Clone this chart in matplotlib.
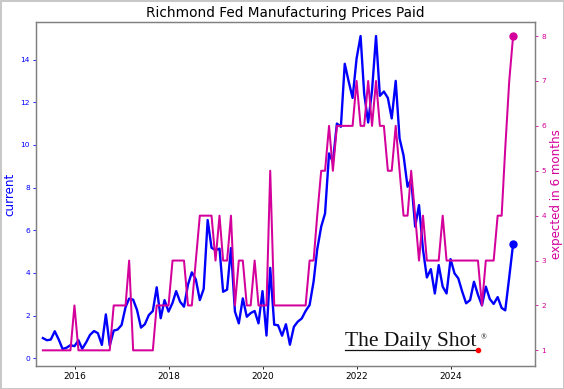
import numpy as np
import pandas as pd
import matplotlib
matplotlib.use('Agg')
import matplotlib.pyplot as plt
import matplotlib.dates as mdates
from matplotlib.lines import Line2D

# monthly readings, Apr 2015 .. Apr 2025 (month-end)
dates = pd.date_range('2015-04-30', periods=121, freq='ME')

current = [
	0.95, 0.85, 0.88, 1.27, 0.88, 0.44, 0.50, 0.62,
	0.57, 0.85, 0.45, 0.75, 1.10, 1.28, 1.18, 0.63, 2.06, 0.60, 1.30, 1.35,
	1.56, 2.40, 2.80, 2.75, 2.27, 1.44, 1.60, 2.03, 2.22, 3.33, 1.88, 2.73,
	2.19, 2.60, 3.15, 2.65, 2.42, 3.45, 4.03, 3.70, 2.73, 3.25, 6.48, 5.18,
	5.07, 5.14, 3.12, 3.22, 5.17, 2.19, 1.64, 2.81, 1.95, 2.12, 2.22, 1.64,
	3.15, 1.07, 4.24, 1.58, 1.55, 1.06, 1.60, 0.64, 1.48, 1.72, 1.87, 2.22,
	2.50, 3.60, 5.10, 6.17, 6.79, 9.60, 9.20, 11.00, 10.85, 13.80, 12.96, 12.20,
	14.05, 15.10, 12.40, 11.05, 12.55, 15.10, 12.30, 12.50, 12.20, 11.24, 13.00, 10.30,
	9.50, 8.04, 8.40, 6.17, 7.18, 5.10, 3.79, 4.18, 3.04, 4.37, 3.36, 3.04,
	4.65, 3.98, 3.75, 3.12, 2.58, 2.73, 3.59, 2.98, 2.48, 3.36, 2.78, 2.55,
	2.87, 2.36, 2.25, 3.80, 5.36,
]

expected = [
	1, 1, 1, 1, 1, 1, 1, 1,
	2, 1, 1, 1, 1, 1, 1, 1, 1, 1, 2, 2,
	2, 2, 3, 1, 1, 1, 1, 1, 1, 2, 2, 2,
	2, 3, 3, 3, 3, 2, 2, 3, 4, 4, 4, 4,
	3, 4, 3, 3, 4, 2, 3, 3, 2, 2, 3, 2,
	2, 2, 5, 2, 2, 2, 2, 2, 2, 2, 2, 2,
	3, 3, 4, 5, 5, 6, 5, 6, 6, 6, 6, 6,
	7, 6, 6, 7, 6, 7, 6, 6, 5, 5, 6, 5,
	4, 4, 5, 4, 3, 4, 3, 3, 3, 3, 4, 3,
	3, 3, 3, 3, 3, 3, 3, 3, 2, 3, 3, 3,
	4, 4, 5.5, 7, 8,
]

blue = '#0000ff'
pink = '#d4009b'
spine_col = '#808080'

fig = plt.figure(figsize=(5.64, 3.89), dpi=100)
fig.patch.set_edgecolor('#c8c8c8')
fig.patch.set_linewidth(2)
ax = fig.add_axes([0.064, 0.059, 0.885, 0.884])
ax2 = ax.twinx()

ax.plot(dates, current, color=blue, lw=1.7)
ax.plot(dates[-1:], current[-1:], 'o', color=blue, ms=5)
ax2.plot(dates, expected, color=pink, lw=1.45)
ax2.plot(dates[-1:], expected[-1:], 'o', color=pink, ms=5)

ax.set_xlim(pd.Timestamp('2015-03-08'), pd.Timestamp('2025-10-19'))
ax.set_ylim(-0.36, 15.75)
ax2.set_ylim(0.65, 8.31)
ax.set_yticks(np.arange(0, 15, 2))
ax2.set_yticks(np.arange(1, 9, 1))
ax.xaxis.set_major_locator(mdates.YearLocator(2))
ax.xaxis.set_major_formatter(mdates.DateFormatter('%Y'))

ax.set_title('Richmond Fed Manufacturing Prices Paid', fontsize=9.8, pad=4)
ax.set_ylabel('current', color=blue, fontsize=8.6, labelpad=3)
ax2.set_ylabel('expected in 6 months', color=pink, fontsize=8.6, labelpad=3)

ax.tick_params(axis='x', labelsize=6.5, length=2.5, width=0.6, colors='black', pad=2)
ax.tick_params(axis='y', labelsize=5.4, length=2.5, width=0.6, labelcolor=blue, color=blue, pad=2)
ax2.tick_params(axis='y', labelsize=5.4, length=2.5, width=0.6, labelcolor=pink, color=pink, pad=2)

for a in (ax, ax2):
	for s in a.spines.values():
		s.set_color(spine_col)
		s.set_linewidth(0.9)

# watermark
fig.text(0.612, 0.111, 'The Daily Shot', family='Liberation Serif', fontsize=15.5,
	va='baseline', ha='left', color='#111111')
fig.text(0.852, 0.128, '\u00ae', family='Liberation Serif', fontsize=5.5,
	va='baseline', ha='left', color='#111111')
fig.add_artist(Line2D([0.612, 0.848], [0.099, 0.099], color='#111111', lw=0.9))
fig.add_artist(Line2D([0.848], [0.099], marker='o', color='red', ms=3))

fig.savefig('out.png', dpi=100)
